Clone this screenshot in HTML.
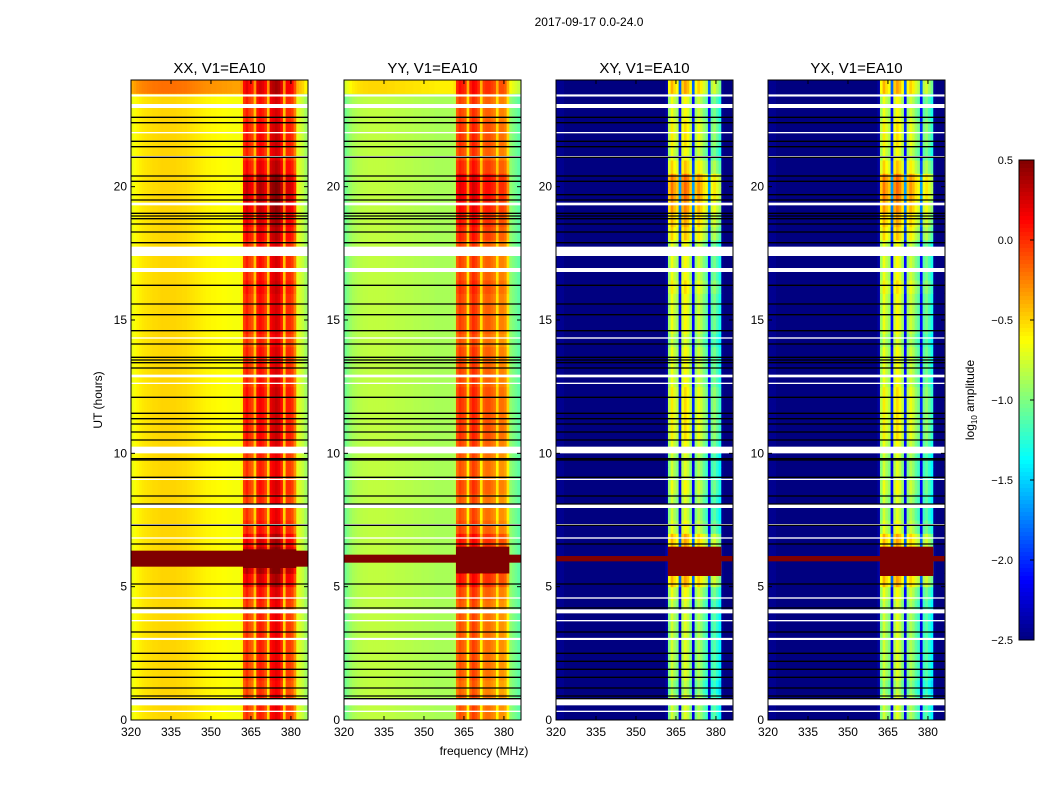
<!DOCTYPE html>
<html><head><meta charset="utf-8">
<style>
body{margin:0;background:#fff;}
svg{display:block;font-family:"Liberation Sans","DejaVu Sans",sans-serif;}
</style></head>
<body>
<svg id="fig" width="1050" height="800" viewBox="0 0 1050 800" xmlns="http://www.w3.org/2000/svg">
<rect width="1050" height="800" fill="#fff"/>
<text x="589" y="26" font-size="12" text-anchor="middle">2017-09-17 0.0-24.0</text>
<text x="484" y="755" font-size="12" text-anchor="middle">frequency (MHz)</text>
<text transform="translate(102,400) rotate(-90)" font-size="12" text-anchor="middle">UT (hours)</text>
<g id="panels"></g>
<g id="cbar"></g>
</svg>
<script>
// ---- data ----
const titles = ["XX, V1=EA10","YY, V1=EA10","XY, V1=EA10","YX, V1=EA10"];
const freqTicks = [320,335,350,365,380];
const timeTicks = [0,5,10,15,20];
const cbarTicks = [0.5,0.0,-0.5,-1.0,-1.5,-2.0,-2.5];
const cbarLabels = ["0.5","0.0","\u22120.5","\u22121.0","\u22121.5","\u22122.0","\u22122.5"];
// frequency profile per 1 MHz channel, 320..385 (log10 amplitude)
const profXX = [-0.68,-0.64,-0.6,-0.58,-0.56,-0.55,-0.54,-0.53,-0.52,-0.52,-0.51,-0.5,-0.5,-0.5,-0.5,-0.5,-0.5,-0.51,-0.51,-0.52,-0.52,-0.53,-0.54,-0.55,-0.56,-0.57,-0.58,-0.59,-0.6,-0.6,-0.61,-0.61,-0.62,-0.62,-0.63,-0.63,-0.64,-0.64,-0.65,-0.65,-0.65,-0.6,
  -0.1,0.0,-0.1,-0.15,-0.5,0.0,0.05,0.0,-0.1,-0.5,0.1,0.15,0.2,0.15,0.0,-0.5,-0.05,-0.05,-0.1,-0.3,-0.7,-0.75,-0.8,-0.9];
const profYY = [-1.05,-0.98,-0.92,-0.88,-0.86,-0.84,-0.83,-0.82,-0.82,-0.81,-0.81,-0.81,-0.81,-0.81,-0.81,-0.81,-0.82,-0.82,-0.82,-0.83,-0.83,-0.83,-0.83,-0.84,-0.84,-0.84,-0.85,-0.85,-0.85,-0.86,-0.86,-0.86,-0.87,-0.87,-0.88,-0.88,-0.88,-0.88,-0.88,-0.88,-0.88,-0.85,
  -0.2,-0.1,-0.15,-0.2,-0.6,-0.15,-0.05,-0.1,-0.2,-0.6,-0.25,-0.2,-0.2,-0.25,-0.3,-0.6,-0.3,-0.3,-0.35,-0.6,-0.95,-1.0,-1.05,-1.1];
const profXY = [-2.45,-2.45,-2.45,-2.5,-2.5,-2.5,-2.5,-2.5,-2.5,-2.5,-2.5,-2.5,-2.5,-2.5,-2.5,-2.5,-2.5,-2.5,-2.5,-2.5,-2.5,-2.5,-2.5,-2.5,-2.5,-2.5,-2.5,-2.5,-2.5,-2.5,-2.5,-2.5,-2.5,-2.5,-2.5,-2.5,-2.5,-2.5,-2.5,-2.5,-2.5,-2.4,
  -1.0,-0.75,-0.9,-1.0,-2.2,-0.85,-0.7,-0.8,-1.0,-2.2,-1.0,-0.85,-0.95,-1.1,-1.2,-2.2,-1.2,-1.1,-1.25,-1.4,-2.45,-2.5,-2.5,-2.5];
const profYX = profXY;
const bandOffset = [0,0,-0.05,0,0,0,0,0, 0,0.05, 0.2,0.35, 0.3,0.2, 0.05,0,0,0.05,0,0,
  0.05,0.1,0.1,0.1,0.1,0.05,0.05,0.05, 0,0.05,0.05,0.05,0.1,0.05,0.05,0.05,
  0.15,0.2,0.25,0.3,0.3,0.15, 0.05,0.1,0.1,0.05,0.05,0.2];
const bgOffset = [0,0,0,0,0,0,0,0, 0,0,0,0, 0,0,0,0,0,0,0,0,
  0,0,0,0,0,0,0,0, 0,0,0,0,0,0,0,0, 0,0,0,0,0,0, 0,0,0,0,0,0.3];
const bandGain = [1,1,1.8,1.8];
const bgGain = [1,1,0,0];
// RFI events: [start hour, end hour]
const eventStart = [[5.75],[5.9],[5.95],[5.95]];
const eventEnd = [[6.35],[6.2],[6.15],[6.15]];
const bandEventStart = [[5.7],[5.5],[5.4],[5.4]];
const bandEventEnd = [[6.4],[6.5],[6.5],[6.5]];
// flagged (white) intervals, hours
const whiteStart = [23.38,22.95,22.0,21.1,19.3,17.4,16.8,14.3,12.85,12.6,10.0,9.0,7.95,7.3,6.8,4.55,4.0,3.7,3.0,0.55,0.3];
const whiteEnd   = [23.46,23.1,22.05,21.15,19.4,17.75,16.95,14.35,12.95,12.65,10.25,9.05,8.1,7.35,6.85,4.6,4.15,3.75,3.08,0.8,0.35];
// black separator lines, hours
const blackLines = [22.6,22.4,21.7,21.5,21.1,20.4,20.2,19.7,19.5,19.0,18.9,18.8,18.6,18.3,17.9,16.3,15.6,15.2,14.6,14.1,13.6,13.5,13.4,13.2,12.1,11.5,11.3,11.1,10.8,10.5,9.8,9.75,9.1,8.4,8.1,7.3,6.6,5.1,4.2,3.3,2.5,2.2,1.9,1.6,1.2,0.9,0.8];
const profiles = [profXX,profYY,profXY,profYX];
// ---- layout ----
const panelX = [131,344,556,768], PW=177, PT=80, PH=640;
const FMIN=320, FMAX=386.4, TMIN=0, TMAX=24, VMIN=-2.5, VMAX=0.5;
const NS="http://www.w3.org/2000/svg";
function mk(tag, attrs, parent){const e=document.createElementNS(NS,tag);for(const k in attrs)e.setAttribute(k,attrs[k]);parent.appendChild(e);return e;}
function jet(v){let t=(v-VMIN)/(VMAX-VMIN);t=Math.max(0,Math.min(1,t));
  const f=x=>Math.max(0,Math.min(1,x));
  const r=f(1.5-Math.abs(4*t-3)), g=f(1.5-Math.abs(4*t-2)), b=f(1.5-Math.abs(4*t-1));
  return `rgb(${Math.round(r*255)},${Math.round(g*255)},${Math.round(b*255)})`;}
const panels=document.getElementById('panels');
profiles.forEach((prof,p)=>{
  const x0=panelX[p];
  const xs=f=>x0+(f-FMIN)/(FMAX-FMIN)*PW;
  const ys=t=>PT+PH-(t-TMIN)/(TMAX-TMIN)*PH;
  const g=mk('g',{},panels);
  
  
  const cid='clip'+p;
  const cp=mk('clipPath',{id:cid},g);mk('rect',{x:x0,y:PT,width:PW,height:PH},cp);
  const hm=mk('g',{'clip-path':`url(#${cid})`},g);
  
  
  const nT=bandOffset.length, dt=(TMAX-TMIN)/nT;
  for(let i=0;i<nT;i++){
    for(let j=0;j<prof.length;j++){
      const f=FMIN+j, inBand=f>=362&&f<=381;
      let v=prof[j]+(inBand?bandOffset[i]*bandGain[p]:bgOffset[i]*bgGain[p]);
      const c=mk('rect',{x:xs(f).toFixed(2),y:ys(i*dt+dt).toFixed(2),width:(xs(f+1)-xs(f)+0.5).toFixed(2),height:(ys(0)-ys(dt)+0.5).toFixed(2),fill:jet(v)},hm);
      
      
    }
  }
  eventStart[p].forEach((s,k)=>{
    const r=mk('rect',{x:x0,y:ys(eventEnd[p][k]),width:PW,height:ys(s)-ys(eventEnd[p][k]),fill:jet(0.5)},hm);
    
    
    const b=mk('rect',{x:xs(362),y:ys(bandEventEnd[p][k]),width:xs(382)-xs(362),height:ys(bandEventStart[p][k])-ys(bandEventEnd[p][k]),fill:jet(0.5)},hm);
    
    
  });
  whiteStart.forEach((s,k)=>{
    const r=mk('rect',{x:x0,y:ys(whiteEnd[k]),width:PW,height:ys(s)-ys(whiteEnd[k]),fill:'#fff'},hm);
    
    
  });
  blackLines.forEach(t=>{
    const l=mk('line',{x1:x0,x2:x0+PW,y1:ys(t),y2:ys(t),stroke:'#000','stroke-width':1.3},hm);
    
    
  });
  const fr=mk('rect',{x:x0,y:PT,width:PW,height:PH,fill:'none',stroke:'#000','stroke-width':1},g);
  
  
  const tt=mk('text',{x:x0+PW/2,y:PT-7,'font-size':15,'text-anchor':'middle'},g);tt.textContent=titles[p];
  
  
  freqTicks.forEach(f=>{
    const x=xs(f);
    mk('line',{x1:x,x2:x,y1:PT+PH,y2:PT+PH-4,stroke:'#000'},g);
    mk('line',{x1:x,x2:x,y1:PT,y2:PT+4,stroke:'#000'},g);
    const t=mk('text',{x:x,y:PT+PH+16,'font-size':12,'text-anchor':'middle'},g);t.textContent=f;
    
    
  });
  timeTicks.forEach(h=>{
    const y=ys(h);
    mk('line',{x1:x0,x2:x0+4,y1:y,y2:y,stroke:'#000'},g);
    mk('line',{x1:x0+PW,x2:x0+PW-4,y1:y,y2:y,stroke:'#000'},g);
    const t=mk('text',{x:x0-4,y:y+4,'font-size':12,'text-anchor':'end'},g);t.textContent=h;
    
    
  });
});
// colorbar
const cb=document.getElementById('cbar');
const CX=1019,CW=15,CT=160,CH=480;
const cys=v=>CT+(VMAX-v)/(VMAX-VMIN)*CH;
for(let k=0;k<120;k++){
  const v=VMAX-(k+0.5)*(VMAX-VMIN)/120;
  mk('rect',{x:CX,y:(CT+k*CH/120).toFixed(2),width:CW,height:(CH/120+0.5).toFixed(2),fill:jet(v)},cb);
}
mk('rect',{x:CX,y:CT,width:CW,height:CH,fill:'none',stroke:'#000'},cb);
cbarTicks.forEach((v,k)=>{
  const y=cys(v);
  mk('line',{x1:CX+CW-4,x2:CX+CW,y1:y,y2:y,stroke:'#000'},cb);
  const t=mk('text',{x:CX-6,y:y+4,'font-size':11,'text-anchor':'end'},cb);t.textContent=cbarLabels[k];
  
  
});
const cl=mk('text',{transform:'translate(974,400) rotate(-90)','font-size':12,'text-anchor':'middle'},cb);
cl.innerHTML='log<tspan font-size="8" dy="3">10</tspan><tspan dy="-3"> amplitude</tspan>';


</script>
</body></html>
